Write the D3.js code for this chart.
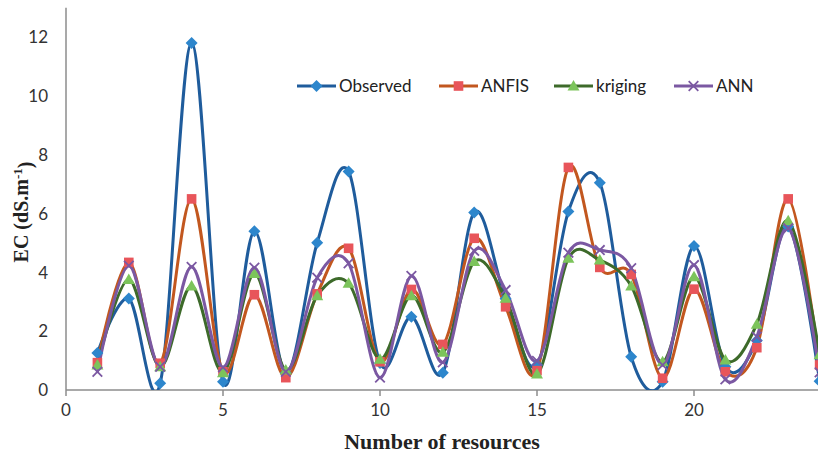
<!DOCTYPE html>
<html>
<head>
<meta charset="utf-8">
<script src="https://cdn.jsdelivr.net/npm/d3@7"></script>
<style>
  body { margin: 0; background: #fff; }
  svg { display: block; }
</style>
</head>
<body>
<div id="chart"></div>
<script>
// dados
const resources = [1, 2, 3, 4, 5, 6, 7, 8, 9, 10, 11, 12, 13, 14, 15, 16, 17, 18, 19, 20, 21, 22, 23, 24];
const observed = [1.26, 3.11, 0.23, 11.8, 0.28, 5.4, 0.58, 5.01, 7.43, 0.92, 2.49, 0.59, 6.04, 3.1, 0.85, 6.07, 7.05, 1.13, 0.28, 4.9, 0.79, 1.68, 5.56, 0.3];
const anfis = [0.93, 4.34, 0.91, 6.5, 0.62, 3.24, 0.42, 3.27, 4.82, 0.96, 3.42, 1.55, 5.16, 2.83, 0.66, 7.57, 4.17, 3.93, 0.4, 3.43, 0.62, 1.44, 6.5, 0.85];
const kriging = [0.85, 3.76, 0.79, 3.54, 0.59, 3.96, 0.68, 3.21, 3.63, 1.05, 3.21, 1.28, 4.37, 3.12, 0.54, 4.48, 4.42, 3.54, 0.96, 3.85, 1.02, 2.24, 5.76, 1.2];
const ann = [0.62, 4.23, 0.79, 4.19, 0.77, 4.16, 0.62, 3.82, 4.31, 0.42, 3.88, 0.94, 4.73, 3.4, 0.99, 4.67, 4.76, 4.14, 0.85, 4.25, 0.36, 1.81, 5.5, 0.6];
const seriesNames = ["Observed", "ANFIS", "kriging", "ANN"];
const xTicks = [0, 5, 10, 15, 20];
const yTicks = [0, 2, 4, 6, 8, 10, 12];

const W = 818, H = 458;
const x0 = 66, y0 = 390;

const svg = d3.select("#chart").append("svg")
    .attr("width", W)
    .attr("height", H);

const xScale = d3.scaleLinear().domain([0, 25]).range([x0, x0 + 25 * 31.4]);
const yScale = d3.scaleLinear().domain([0, 13]).range([y0, y0 - 13 * 29.4]);

const styles = {
    Observed: {line: "#1f5c9c", fill: "#2d86cc", marker: "diamond"},
    ANFIS: {line: "#c2571f", fill: "#e8555a", marker: "square"},
    kriging: {line: "#3d6a2a", fill: "#7cc45b", marker: "triangle"},
    ANN: {line: "#7b58a2", fill: "#7b58a2", marker: "x"}
};

const series = [observed, anfis, kriging, ann].map((vals, i) => ({
    name: seriesNames[i],
    values: resources.map((r, j) => ({x: r, y: vals[j]}))
}));

// área de recorte
svg.append("clipPath").attr("id", "plot")
    .append("rect")
    .attr("x", x0).attr("y", 0)
    .attr("width", W - x0).attr("height", y0);

// eixos
svg.append("line")
    .attr("x1", x0).attr("x2", x0)
    .attr("y1", yScale(13)).attr("y2", y0)
    .attr("stroke", "#8c8c8c").attr("stroke-width", 1.5);

svg.append("line")
    .attr("x1", x0).attr("x2", W)
    .attr("y1", y0).attr("y2", y0)
    .attr("stroke", "#8c8c8c").attr("stroke-width", 1.5);

svg.selectAll(".xtick")
    .data(xTicks)
    .enter()
    .append("line")
    .attr("x1", d => xScale(d)).attr("x2", d => xScale(d))
    .attr("y1", y0).attr("y2", y0 + 6)
    .attr("stroke", "#8c8c8c").attr("stroke-width", 1.5);

svg.selectAll(".xlabel")
    .data(xTicks)
    .enter()
    .append("text")
    .attr("x", d => xScale(d))
    .attr("y", y0 + 26)
    .attr("text-anchor", "middle")
    .style("font-family", "Lato, 'Open Sans', sans-serif")
    .style("font-size", "17px")
    .style("fill", "#333")
    .text(d => d);

svg.selectAll(".ylabel")
    .data(yTicks)
    .enter()
    .append("text")
    .attr("x", 48)
    .attr("y", d => yScale(d))
    .attr("dy", "0.36em")
    .attr("text-anchor", "end")
    .style("font-family", "Lato, 'Open Sans', sans-serif")
    .style("font-size", "17px")
    .style("fill", "#333")
    .text(d => d);

// linhas suavizadas
const line = d3.line()
    .x(d => xScale(d.x))
    .y(d => yScale(d.y))
    .curve(d3.curveCatmullRom.alpha(0));

const plot = svg.append("g").attr("clip-path", "url(#plot)");

plot.selectAll(".line")
    .data(series)
    .enter()
    .append("path")
    .attr("fill", "none")
    .attr("stroke", d => styles[d.name].line)
    .attr("stroke-width", 3)
    .attr("d", d => line(d.values));

// marcadores
function drawMarker(g, type, fill, size) {
    const s = size;
    if (type === "diamond") {
        g.append("path").attr("d", `M0,${-s}L${s},0L0,${s}L${-s},0Z`).attr("fill", fill);
    } else if (type === "square") {
        g.append("rect").attr("x", -s * 0.8).attr("y", -s * 0.8)
            .attr("width", s * 1.6).attr("height", s * 1.6).attr("fill", fill);
    } else if (type === "triangle") {
        g.append("path").attr("d", `M0,${-s}L${s},${s * 0.75}L${-s},${s * 0.75}Z`).attr("fill", fill);
    } else {
        g.append("path").attr("d", `M${-s * 0.8},${-s * 0.8}L${s * 0.8},${s * 0.8}M${s * 0.8},${-s * 0.8}L${-s * 0.8},${s * 0.8}`)
            .attr("stroke", fill).attr("stroke-width", 1.8);
    }
}

series.forEach(s => {
    const st = styles[s.name];
    plot.selectAll(null)
        .data(s.values)
        .enter()
        .append("g")
        .attr("transform", d => `translate(${xScale(d.x)},${yScale(d.y)})`)
        .each(function() { drawMarker(d3.select(this), st.marker, st.fill, 6); });
});

// legenda
const legendX = [297, 439, 554, 674];
const legend = svg.selectAll(".legend")
    .data(seriesNames)
    .enter()
    .append("g")
    .attr("transform", (d, i) => `translate(${legendX[i]},86)`);

legend.append("line")
    .attr("x1", 0).attr("x2", 39)
    .attr("stroke", d => styles[d].line)
    .attr("stroke-width", 3);

legend.each(function(d) {
    const g = d3.select(this).append("g").attr("transform", "translate(19.5,0)");
    drawMarker(g, styles[d].marker, styles[d].fill, 6);
});

legend.append("text")
    .attr("x", 42)
    .attr("dy", "0.36em")
    .style("font-family", "Lato, 'Open Sans', sans-serif")
    .style("font-size", "17px")
    .style("fill", "#222")
    .text(d => d);

// títulos dos eixos
svg.append("text")
    .attr("x", 442)
    .attr("y", 449)
    .attr("text-anchor", "middle")
    .style("font-family", "'Liberation Serif', 'Times New Roman', serif")
    .style("font-weight", "bold")
    .style("font-size", "22px")
    .style("fill", "#222")
    .text("Number of resources");

const yTitle = svg.append("text")
    .attr("transform", "translate(28,212) rotate(-90)")
    .attr("text-anchor", "middle")
    .style("font-family", "'Liberation Serif', 'Times New Roman', serif")
    .style("font-weight", "bold")
    .style("font-size", "20px")
    .style("fill", "#222");
yTitle.append("tspan").text("EC (dS.m");
yTitle.append("tspan").attr("dy", "-0.5em").style("font-size", "13px").text("-1");
yTitle.append("tspan").attr("dy", "0.5em").text(")");
</script>
</body>
</html>
